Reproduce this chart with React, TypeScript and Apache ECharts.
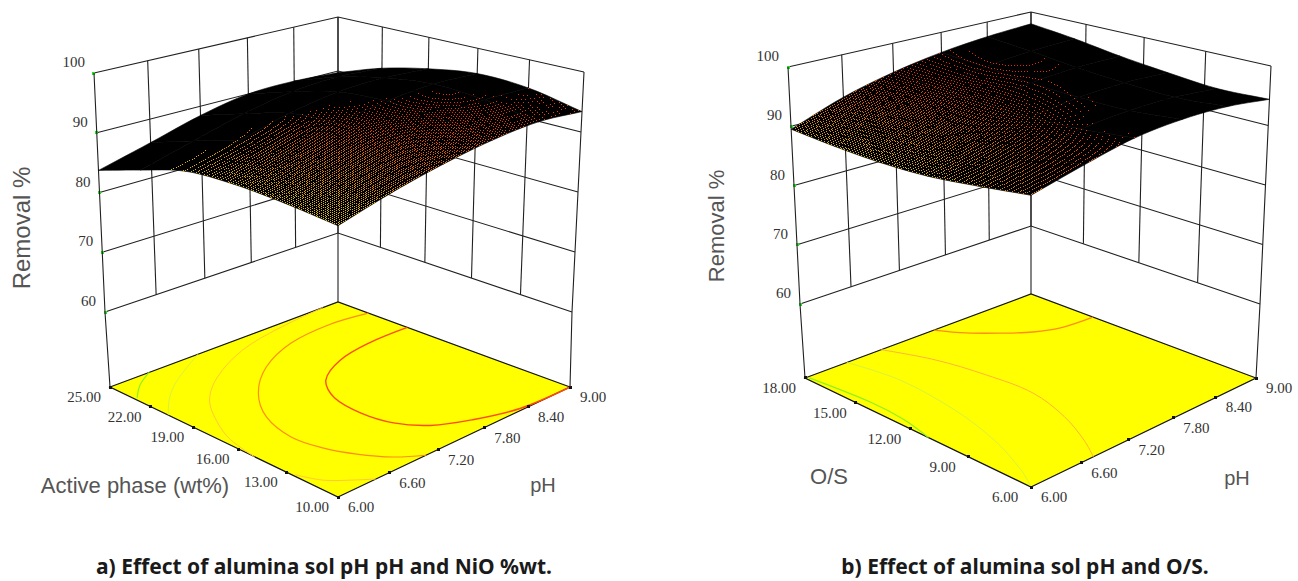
import React, { useEffect, useRef } from "react";
import * as echarts from "echarts";

// ---- values ----
const phTicks = [6.0, 6.6, 7.2, 7.8, 8.4, 9.0];
const activeTicks = [10, 13, 16, 19, 22, 25];
const osTicks = [6, 9, 12, 15, 18];
const removalTicks = [60, 70, 80, 90, 100];

// Removal % at the tick nodes: one row per second-factor level, one column per pH level
const activeNodes = [10, 13, 16, 19, 22, 25];
const removalA = [
  [88.0, 90.3, 92.1, 93.4, 94.0, 93.4],
  [88.7, 91.1, 93.3, 94.7, 95.4, 95.2],
  [89.0, 91.5, 93.8, 95.2, 95.9, 95.6],
  [88.5, 90.9, 93.2, 94.6, 94.9, 94.4],
  [86.2, 88.6, 90.9, 92.5, 93.0, 92.5],
  [83.7, 86.0, 88.4, 90.0, 90.2, 89.7],
];
const osNodes = [6, 8.4, 10.8, 13.2, 15.6, 18];
const removalB = [
  [91.3, 93.3, 95.0, 95.6, 95.4, 94.4],
  [90.1, 92.3, 94.1, 94.8, 94.8, 94.1],
  [89.1, 91.7, 93.7, 94.8, 95.1, 94.8],
  [88.8, 91.65, 93.8, 95.1, 95.7, 95.7],
  [89.0, 92.1, 94.3, 95.8, 96.6, 96.9],
  [89.5, 92.7, 94.9, 96.4, 97.3, 97.8],
];

// Contours on the floor as [pH, second factor]
const contourA1 = [[9, 20.1], [8.45, 20.08], [7.95, 19.6], [7.53, 18.45], [7.31, 16.78], [7.25, 14.8], [7.31, 13.1], [7.5, 11.8], [7.84, 10.89], [8.33, 10.14], [9, 10]];
const contourA2 = [[9, 22.8], [8.49, 23.14], [7.9, 22.78], [7.34, 21.52], [6.89, 19.62], [6.6, 17.5], [6.48, 15.27], [6.53, 13.51], [6.65, 12.13], [6.83, 10.86], [7.05, 10]];
const contourA3 = [[8.78, 25], [8.09, 24.6], [7.45, 23.83], [6.86, 22.3], [6.47, 20.62], [6.21, 18.57], [6.07, 16.92], [6, 15]];
const contourA3b = [[6.02, 12.6], [6.12, 11.43], [6.32, 10.48], [6.44, 10]];
const contourA4 = [[7.08, 25], [6.54, 23.35], [6.24, 22.1], [6, 20.73]];
const contourA5 = [[6.47, 25], [6.23, 24.19], [6.03, 23.16]];
const contourB1 = [[7.62, 18], [7.8, 16.87], [8.05, 15.85], [8.29, 15.05], [8.56, 14.56], [9, 14.4]];
const contourB2 = [[6.93, 18], [7.14, 15.79], [7.25, 13.39], [7.28, 11.02], [7.13, 8.83], [6.92, 7.08], [6.75, 6]];
const contourB3 = [[6.5, 18], [6.6, 15.36], [6.53, 12.02], [6.37, 9.29], [6.15, 7.07], [6, 6]];
const contourB4 = [[6.03, 17.9], [6.1, 14.64], [6.08, 12.72], [6, 11.04]];

const captionA = "a) Effect of alumina sol pH pH and NiO %wt.";
const captionB = "b) Effect of alumina sol pH and O/S.";

// ---- projection set-up: the four corners of the floor, of the 60 plane and of the 100 plane ----
type Pt = [number, number];
type Quad = { F: Pt; R: Pt; B: Pt; L: Pt };
function homography(q: Quad) {
  const { F, R, B, L } = q;
  const dx1 = R[0] - B[0], dx2 = L[0] - B[0], sx = F[0] - R[0] + B[0] - L[0];
  const dy1 = R[1] - B[1], dy2 = L[1] - B[1], sy = F[1] - R[1] + B[1] - L[1];
  const den = dx1 * dy2 - dx2 * dy1;
  const g = (sx * dy2 - dx2 * sy) / den, h = (dx1 * sy - sx * dy1) / den;
  const a = R[0] - F[0] + g * R[0], b = L[0] - F[0] + h * L[0];
  const d = R[1] - F[1] + g * R[1], e = L[1] - F[1] + h * L[1];
  return (s: number, t: number): Pt => {
    const w = 1 + g * s + h * t;
    return [(a * s + b * t + F[0]) / w, (d * s + e * t + F[1]) / w];
  };
}

const PANELS = {
  a: {
    floor: homography({ F: [338, 497], R: [570, 387], B: [338, 302], L: [110, 387] }),
    low: homography({ F: [338, 414], R: [572, 312], B: [338, 233], L: [105, 312] }),
    high: homography({ F: [338, 145], R: [584, 72], B: [338, 17], L: [94, 73] }),
    xTicks: phTicks, yTicks: activeTicks, yNodes: activeNodes, table: removalA,
    contours: [
      { pts: contourA3, color: "#ffc83c", w: 1 }, { pts: contourA3b, color: "#ffc83c", w: 1 },
      { pts: contourA4, color: "#d8f040", w: 1 }, { pts: contourA5, color: "#90f020", w: 1.2 },
      { pts: contourA2, color: "#ff8c14", w: 1.2 }, { pts: contourA1, color: "#ff4a10", w: 1.4 },
    ],
  },
  b: {
    floor: homography({ F: [1031, 487], R: [1256, 378], B: [1031, 294], L: [805, 378] }),
    low: homography({ F: [1031, 405], R: [1260, 304], B: [1031, 226], L: [800, 304] }),
    high: homography({ F: [1031, 137], R: [1271, 66], B: [1031, 12], L: [788, 67] }),
    xTicks: phTicks, yTicks: osTicks, yNodes: osNodes, table: removalB,
    contours: [
      { pts: contourB3, color: "#d8f040", w: 1 }, { pts: contourB4, color: "#90f020", w: 1.2 },
      { pts: contourB2, color: "#ffb43c", w: 1 }, { pts: contourB1, color: "#ff8c14", w: 1.3 },
    ],
  },
};
type Panel = typeof PANELS.a;

const norm = (v: number, arr: number[]) => (v - arr[0]) / (arr[arr.length - 1] - arr[0]);
function P3(p: Panel, s: number, t: number, z: number): Pt {
  const a = p.low(s, t), b = p.high(s, t), k = (z - 60) / 40;
  return [a[0] + (b[0] - a[0]) * k, a[1] + (b[1] - a[1]) * k];
}

// smooth reading of the node table between its nodes, for the fine mesh of the surface
function cr(a: number, b: number, c: number, d: number, u: number) {
  return b + 0.5 * u * (c - a + u * (2 * a - 5 * b + 4 * c - d + u * (3 * (b - c) + d - a)));
}
function heightAt(tb: number[][], s: number, t: number) {
  const n = tb.length - 1;
  const fs = Math.min(s * n, n - 1e-6), ft = Math.min(t * n, n - 1e-6);
  const i = Math.floor(fs), j = Math.floor(ft);
  const at = (r: number, c: number) => {
    const rr = r < 0 ? 0 : r > n ? n : r;
    const line = tb[rr];
    let v = c < 0 ? 2 * line[0] - line[1] : c > n ? 2 * line[n] - line[n - 1] : line[c];
    if (r < 0 || r > n) {
      const cc = c < 0 ? 0 : c > n ? n : c;
      v += r < 0 ? tb[0][cc] - tb[1][cc] : tb[n][cc] - tb[n - 1][cc];
    }
    return v;
  };
  const row = (r: number) => cr(at(r, i - 1), at(r, i), at(r, i + 1), at(r, i + 2), fs - i);
  return cr(row(j - 1), row(j), row(j + 1), row(j + 2), ft - j);
}

function colourOf(z: number) {
  const stops: [number, number, number][] = [[86, 225, 215], [89, 225, 180], [92, 225, 110], [95, 228, 50], [98, 235, 20]];
  if (z <= stops[0][0]) return `rgb(${stops[0][1]},${stops[0][2]},0)`;
  for (let i = 1; i < stops.length; i++) {
    if (z <= stops[i][0]) {
      const k = (z - stops[i - 1][0]) / 3;
      const r = stops[i - 1][1] + (stops[i][1] - stops[i - 1][1]) * k;
      const g = stops[i - 1][2] + (stops[i][2] - stops[i - 1][2]) * k;
      return `rgb(${Math.round(r)},${Math.round(g)},0)`;
    }
  }
  return "rgb(235,20,0)";
}

const SUB = 30; // mesh lines per node interval
const LINE = "#202020";
const TICK_FILL = "#333333";

const lineEl = (pts: number[][], w = 1.1, stroke = LINE) => ({
  type: "polyline", silent: true, shape: { points: pts }, style: { stroke, lineWidth: w, fill: "none" },
});
const dotEl = (c: number[], size: number, fill: string) => ({
  type: "rect", silent: true, shape: { x: Math.round(c[0] - size / 2), y: Math.round(c[1] - size / 2), width: size, height: size }, style: { fill },
});
const textEl = (c: number[], text: string, dx: number, dy: number, align: string) => ({
  type: "text", silent: true, x: c[0] + dx, y: c[1] + dy,
  style: { text, fontFamily: "Liberation Serif", fontSize: 15, fill: TICK_FILL, align, verticalAlign: "middle" },
});

function panelSeries(p: Panel) {
  const base = { type: "custom", coordinateSystem: "cartesian2d", clip: false, silent: true, xAxisIndex: 0, yAxisIndex: 0 };

  const floor = {
    ...base, name: "floor", data: [[0, 0]],
    renderItem: (_: any, api: any) => {
      const c = (q: Pt) => api.coord(q);
      const corners = [p.floor(0, 0), p.floor(1, 0), p.floor(1, 1), p.floor(0, 1)].map(c);
      return {
        type: "group",
        children: [
          { type: "polygon", silent: true, shape: { points: corners }, style: { fill: "#ffff00", stroke: "#111", lineWidth: 1.2 } },
          ...p.contours.map((ct) => ({
            type: "polyline", silent: true,
            shape: { points: ct.pts.map((v) => c(p.floor(norm(v[0], p.xTicks), norm(v[1], p.yTicks)))), smooth: 0.35 },
            style: { stroke: ct.color, lineWidth: ct.w, fill: "none" },
          })),
        ],
      };
    },
  };

  const zAxis = {
    ...base, name: "Removal %", data: removalTicks.map((z) => [z, z]),
    renderItem: (_: any, api: any) => {
      const z = api.value(0);
      const c = (q: Pt) => api.coord(q);
      const l = c(P3(p, 0, 1, z));
      return {
        type: "group",
        children: [
          lineEl([l, c(P3(p, 1, 1, z)), c(P3(p, 1, 0, z))]),
          dotEl(l, 3, "#22e022"),
          textEl(l, String(z), -9, -11, "right"),
        ],
      };
    },
  };

  const xAxis = {
    ...base, name: "pH", data: p.xTicks.map((v) => [v, v]),
    renderItem: (_: any, api: any) => {
      const v = api.value(0), s = norm(v, p.xTicks);
      const c = (q: Pt) => api.coord(q);
      const onFloor = c(p.floor(s, 0));
      const pts = [c(P3(p, s, 1, 100)), c(P3(p, s, 1, 60))];
      if (s === 0 || s === 1) pts.push(c(p.floor(s, 1)));
      return {
        type: "group",
        children: [lineEl(pts), dotEl(onFloor, 3, "#111"), textEl(onFloor, v.toFixed(2), 23, 10, "center")],
      };
    },
  };

  const yAxis = {
    ...base, name: "factor", data: p.yTicks.map((v) => [v, v]),
    renderItem: (_: any, api: any) => {
      const v = api.value(0), t = norm(v, p.yTicks);
      const c = (q: Pt) => api.coord(q);
      const onFloor = c(p.floor(0, t));
      const pts = [c(P3(p, 1, t, 100)), c(P3(p, 1, t, 60))];
      if (t === 0) pts.push(c(p.floor(1, 0)));
      return {
        type: "group",
        children: [lineEl(pts), dotEl(onFloor, 3, "#111"), textEl(onFloor, v.toFixed(2), -26, 10, "center")],
      };
    },
  };

  // one item per node interval of the table, drawn from the back corner to the front corner
  const cells: number[][] = [];
  for (let j = p.table.length - 2; j >= 0; j--)
    for (let i = p.table[j].length - 2; i >= 0; i--)
      cells.push([p.xTicks[i], p.yNodes[j], p.table[j][i], i, j]);

  const vertex = (s: number, t: number) => P3(p, s, t, heightAt(p.table, s, t));

  const surfaceBase = {
    ...base, name: "surface", data: cells,
    renderItem: (_: any, api: any) => {
      const i = api.value(3), j = api.value(4), n = p.table.length - 1;
      const pts: number[][] = [];
      for (let k = 0; k <= 6; k++) pts.push(api.coord(vertex((i + k / 6) / n, j / n)));
      for (let k = 0; k <= 6; k++) pts.push(api.coord(vertex((i + 1) / n, (j + k / 6) / n)));
      for (let k = 6; k >= 0; k--) pts.push(api.coord(vertex((i + k / 6) / n, (j + 1) / n)));
      for (let k = 6; k >= 0; k--) pts.push(api.coord(vertex(i / n, (j + k / 6) / n)));
      return { type: "polygon", silent: true, shape: { points: pts }, style: { fill: "#000", stroke: "#000", lineWidth: 0.6 } };
    },
  };

  // the mesh lines of the whole surface share one set of covered pixels
  const N = SUB * (p.table.length - 1);
  let mesh: { pos: number[][][]; black: Set<number> } | null = null;
  const key = (x: number, y: number) => x * 4096 + y;
  const buildMesh = (api: any) => {
    const pos: number[][][] = [];
    for (let b = 0; b <= N; b++) {
      const row: number[][] = [];
      for (let a = 0; a <= N; a++) row.push(api.coord(vertex(a / N, b / N)));
      pos.push(row);
    }
    const black = new Set<number>();
    const ras = (p0: number[], p1: number[]) => {
      let x0 = Math.floor(p0[0]), y0 = Math.floor(p0[1]);
      const x1 = Math.floor(p1[0]), y1 = Math.floor(p1[1]);
      const dx = Math.abs(x1 - x0), dy = -Math.abs(y1 - y0);
      const sx = x0 < x1 ? 1 : -1, sy = y0 < y1 ? 1 : -1;
      let err = dx + dy;
      for (;;) {
        black.add(key(x0, y0));
        if (x0 === x1 && y0 === y1) break;
        const e2 = 2 * err;
        if (e2 >= dy) { err += dy; x0 += sx; }
        if (e2 <= dx) { err += dx; y0 += sy; }
      }
    };
    for (let b = 0; b <= N; b++)
      for (let a = 0; a <= N; a++) {
        if (a < N) ras(pos[b][a], pos[b][a + 1]);
        if (b < N) ras(pos[b][a], pos[b + 1][a]);
      }
    return { pos, black };
  };

  const surfaceDots = {
    ...base, name: "surface mesh", data: cells,
    renderItem: (_: any, api: any) => {
      if (!mesh) mesh = buildMesh(api);
      const { pos, black } = mesh;
      const i = api.value(3), j = api.value(4);
      const buckets = new Map<string, string[]>();
      for (let b = j * SUB; b < (j + 1) * SUB; b++)
        for (let a = i * SUB; a < (i + 1) * SUB; a++) {
          const cx = (pos[b][a][0] + pos[b][a + 1][0] + pos[b + 1][a][0] + pos[b + 1][a + 1][0]) / 4;
          const cy = (pos[b][a][1] + pos[b][a + 1][1] + pos[b + 1][a][1] + pos[b + 1][a + 1][1]) / 4;
          const px = Math.floor(cx), py = Math.floor(cy);
          if (black.has(key(px, py))) continue;
          const zv = heightAt(p.table, (a + 0.5) / N, (b + 0.5) / N);
          const col = colourOf(Math.round(zv * 2) / 2);
          let arr = buckets.get(col);
          if (!arr) { arr = []; buckets.set(col, arr); }
          arr.push(`M${px} ${py}h1v1h-1z`);
        }
      const children: any[] = [];
      buckets.forEach((arr, col) => {
        children.push({ type: "path", silent: true, shape: { pathData: arr.join("") }, style: { fill: col } });
      });
      return { type: "group", children };
    },
  };

  return [floor, zAxis, xAxis, yAxis, surfaceBase, surfaceDots];
}

const axisNames = [
  { text: "Removal %", x: 21, y: 228, rotation: Math.PI / 2, size: 24 },
  { text: "Active phase (wt%)", x: 135, y: 485, rotation: 0, size: 22 },
  { text: "pH", x: 543, y: 485, rotation: 0, size: 20 },
  { text: "Removal %", x: 716, y: 226, rotation: Math.PI / 2, size: 22 },
  { text: "O/S", x: 829, y: 476, rotation: 0, size: 22 },
  { text: "pH", x: 1237, y: 478, rotation: 0, size: 20 },
];

const captionStyle = { fontFamily: "Noto Sans", fontWeight: 700, fontSize: 21, lineHeight: 20, color: "#1a1a1a" };

export default function App() {
  const ref = useRef<HTMLDivElement>(null);
  useEffect(() => {
    if (!ref.current) return;
    document.body.style.margin = "0";
    const chart = echarts.init(ref.current, undefined, { renderer: "svg" });
    chart.setOption({
      animation: false,
      backgroundColor: "#ffffff",
      tooltip: { show: false },
      grid: { left: 0, top: 0, width: 1298, height: 581, containLabel: false },
      xAxis: { type: "value", min: 0, max: 1298, show: false },
      yAxis: { type: "value", min: 0, max: 581, inverse: true, show: false },
      title: [
        { text: captionA, left: 324, top: 556, textAlign: "center", padding: 0, textStyle: captionStyle },
        { text: captionB, left: 1025, top: 556, textAlign: "center", padding: 0, textStyle: captionStyle },
      ],
      graphic: {
        elements: axisNames.map((n) => ({
          type: "text", silent: true, x: n.x, y: n.y, rotation: n.rotation,
          style: { text: n.text, fontFamily: "Liberation Sans", fontSize: n.size, fill: "#555555", align: "center", verticalAlign: "middle" },
        })),
      },
      series: [...panelSeries(PANELS.a), ...panelSeries(PANELS.b as any)],
    });
    return () => chart.dispose();
  }, []);
  return <div ref={ref} style={{ position: "absolute", left: 0, top: 0, width: 1298, height: 581 }} />;
}
